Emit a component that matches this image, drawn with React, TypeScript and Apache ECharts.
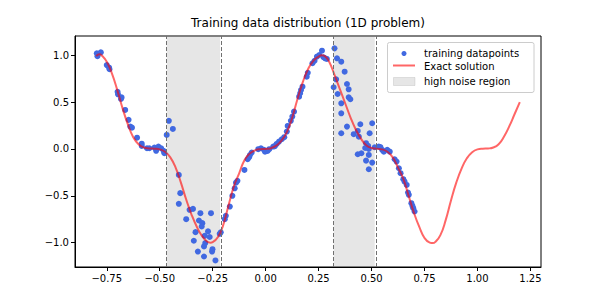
import React, { useEffect, useRef } from "react";
import * as echarts from "echarts";

const pointX = [
  -0.797, -0.794, -0.778, -0.75, -0.739, -0.737, -0.699, -0.697, -0.68, -0.683, -0.663, -0.647, -0.639, -0.631, -0.607, -0.585, -0.585, -0.56, -0.549, -0.525, -0.517, -0.506, -0.493, -0.482, -0.478,
  -0.467, -0.457, -0.438, -0.41, -0.403, -0.41, -0.359, -0.343, -0.375, -0.308, -0.315, -0.299, -0.302, -0.258, -0.331, -0.272, -0.288, -0.264, -0.339, -0.285, -0.291, -0.251, -0.253, -0.32, -0.291, -0.237,
  -0.217, -0.212, -0.193, -0.188, -0.169, -0.157, -0.146, -0.14, -0.133, -0.1, -0.085, -0.078, -0.074, -0.066, -0.035, -0.022, -0.008, -0.003, 0.009, 0.017, 0.036, 0.044, 0.052, 0.063, 0.076, 0.088, 0.1, 0.104, 0.119, 0.126, 0.134, 0.158, 0.163, 0.167, 0.174, 0.194, 0.199, 0.221, 0.231, 0.242, 0.253, 0.266, 0.273, 0.281, 0.289,
  0.325, 0.337, 0.357, 0.373, 0.333, 0.321, 0.384, 0.392, 0.34, 0.392, 0.4, 0.357, 0.357, 0.384, 0.357, 0.447, 0.503, 0.435, 0.416, 0.44, 0.491, 0.474, 0.484, 0.47, 0.487, 0.435, 0.452, 0.487, 0.474, 0.503, 0.487, 0.515,
  0.534, 0.542, 0.55, 0.558, 0.574, 0.586, 0.609, 0.618, 0.629, 0.637, 0.65, 0.656, 0.666, 0.672, 0.676, 0.688, 0.693, 0.697, 0.703,
];
const pointY = [
  1.02, 0.99, 1.03, 0.895, 0.867, 0.85, 0.61, 0.583, 0.55, 0.533, 0.416, 0.31, 0.238, 0.227, 0.12, 0.056, 0.032, 0.007, 0.007, 0.014, -0.02, 0.025, 0.007, -0.02, -0.046,
  0.149, 0.3, 0.213, -0.277, -0.472, -0.586, -0.65, -0.64, -0.75, -0.686, -0.764, -0.792, -0.828, -0.686, -0.888, -0.88, -0.927, -0.94, -0.98, -1.005, -1.04, -1.07, -1.095, -1.095, -1.148, -1.19,
  -0.906, -0.89, -0.75, -0.714, -0.615, -0.5, -0.42, -0.36, -0.34, -0.224, -0.11, -0.088, -0.065, -0.039, -0.003, 0.007, -0.01, -0.029, -0.021, -0.003, 0.025, 0.03, 0.053, 0.078, 0.103, 0.125, 0.185, 0.245, 0.3, 0.345, 0.398, 0.558, 0.594, 0.629, 0.664, 0.771, 0.813, 0.914, 0.941, 0.984, 1.002, 1.048, 0.978, 0.967, 0.96,
  1.073, 0.967, 0.931, 0.824, 0.743, 0.658, 0.693, 0.636, 0.586, 0.551, 0.53, 0.487, 0.38, 0.238, 0.167, 0.263, 0.274, 0.192, 0.157, 0.131, 0.167, 0.061, 0.032, 0.01, 0.0, -0.057, -0.046, -0.064, -0.125, -0.146, -0.217, 0.018,
  0.025, 0.02, -0.01, -0.029, -0.01, -0.029, -0.11, -0.135, -0.206, -0.259, -0.323, -0.349, -0.384, -0.466, -0.49, -0.579, -0.608, -0.632, -0.668,
];

const curveX = [
  -0.8, -0.785, -0.775, -0.75, -0.725, -0.7, -0.675, -0.65, -0.625, -0.6, -0.575, -0.55, -0.525, -0.5, -0.475, -0.45, -0.425, -0.4, -0.375, -0.35, -0.325, -0.3, -0.275, -0.26, -0.25, -0.225, -0.2, -0.175, -0.15, -0.125, -0.1, -0.075, -0.05, -0.025,
  0.0, 0.025, 0.05, 0.075, 0.1, 0.125, 0.15, 0.175, 0.2, 0.225, 0.25, 0.265, 0.28, 0.3, 0.325, 0.35, 0.375, 0.4, 0.425, 0.45, 0.475, 0.5, 0.525, 0.55, 0.575, 0.6, 0.625, 0.65, 0.675, 0.7, 0.725, 0.75, 0.775, 0.79, 0.8, 0.825, 0.85, 0.875, 0.9, 0.925, 0.95, 0.975, 1.0, 1.025, 1.05, 1.075, 1.1, 1.125, 1.15, 1.175, 1.2,
];
const curveY = [
  0.99, 1.01, 1.0, 0.93, 0.8, 0.625, 0.43, 0.26, 0.125, 0.05, 0.015, 0.005, 0.002, -0.005, -0.03, -0.09, -0.2, -0.36, -0.54, -0.7, -0.83, -0.93, -0.99, -1.0, -0.995, -0.94, -0.81, -0.6, -0.4, -0.26, -0.12, -0.05, -0.015, -0.003,
  0.0, 0.008, 0.035, 0.09, 0.18, 0.33, 0.53, 0.71, 0.85, 0.94, 0.985, 1.0, 0.99, 0.93, 0.79, 0.64, 0.49, 0.34, 0.21, 0.11, 0.04, 0.01, 0.002, -0.005, -0.03, -0.09, -0.2, -0.32, -0.5, -0.68, -0.83, -0.95, -1.0, -1.005, -0.995, -0.92, -0.76, -0.55, -0.36, -0.21, -0.1, -0.035, -0.005, 0.003, 0.005, 0.015, 0.05, 0.13, 0.24, 0.37, 0.5,
];

const noiseRegions = [
  [-0.467, -0.215],
  [0.321, 0.515],
];

const xTicks = [-0.75, -0.5, -0.25, 0, 0.25, 0.5, 0.75, 1.0, 1.25];
const yTicks = [-1.0, -0.5, 0.0, 0.5, 1.0];

const titleText = "Training data distribution (1D problem)";
const legendLabels = ["training datapoints", "Exact solution", "high noise region"];

const FONT = "DejaVu Sans";
const fmt = (v: number, d: number) => {
  const s = Math.abs(v).toFixed(d);
  return v < -1e-9 ? "\u2212" + s : s;
};

export default function App() {
  const ref = useRef<HTMLDivElement>(null);
  useEffect(() => {
    document.body.style.margin = "0";
    if (!ref.current) return;
    const chart = echarts.init(ref.current, null, { renderer: "svg" });
    const edges: any[] = [];
    noiseRegions.forEach((r) => {
      edges.push({ xAxis: r[0] });
      edges.push({ xAxis: r[1] });
    });
    const option: any = {
      animation: false,
      backgroundColor: "#fff",
      grid: { left: 75, right: 59, top: 36, bottom: 33, show: true, borderColor: "#000", borderWidth: 1, backgroundColor: "transparent" },
      xAxis: {
        type: "value",
        min: -0.9,
        max: 1.3,
        splitLine: { show: false },
        axisLine: { show: true, onZero: false, lineStyle: { color: "#000", width: 1 } },
        axisTick: { show: true, length: 4, customValues: xTicks, lineStyle: { color: "#000" } },
        axisLabel: { customValues: xTicks, formatter: (v: number) => fmt(v, 2), color: "#000", fontFamily: FONT, fontSize: 10, margin: 6 },
      },
      yAxis: {
        type: "value",
        min: -1.26,
        max: 1.205,
        splitLine: { show: false },
        axisLine: { show: true, onZero: false, lineStyle: { color: "#000", width: 1 } },
        axisTick: { show: true, length: 4, customValues: yTicks, lineStyle: { color: "#000" } },
        axisLabel: { customValues: yTicks, formatter: (v: number) => fmt(v, 1), color: "#000", fontFamily: FONT, fontSize: 10, margin: 6 },
      },
      series: [
        {
          type: "line",
          data: [],
          z: 1,
          markArea: {
            silent: true,
            itemStyle: { color: "rgba(128,128,128,0.2)" },
            data: noiseRegions.map((r) => [{ xAxis: r[0] }, { xAxis: r[1] }]),
          },
          markLine: {
            silent: true,
            symbol: "none",
            label: { show: false },
            lineStyle: { color: "#707070", type: [4, 2], width: 1 },
            data: edges,
          },
        },
        {
          type: "scatter",
          z: 2,
          symbolSize: 6,
          itemStyle: { color: "#4169E1", opacity: 1 },
          data: pointX.map((x, i) => [x, pointY[i]]),
        },
        {
          type: "line",
          z: 3,
          smooth: 0.5,
          showSymbol: false,
          symbol: "none",
          lineStyle: { color: "#ff0000", opacity: 0.6, width: 2 },
          data: curveX.map((x, i) => [x, curveY[i]]),
        },
      ],
      graphic: [
        { type: "text", x: 308, y: 17, style: { text: titleText, fontFamily: FONT, fontSize: 12, fill: "#000", textAlign: "center" } },
        { type: "rect", shape: { x: 387.5, y: 42.5, width: 146.5, height: 50, r: 2 }, style: { fill: "rgba(255,255,255,0.8)", stroke: "#cccccc", lineWidth: 1 }, z: 10 },
        { type: "circle", shape: { cx: 404, cy: 53.5, r: 2.5 }, style: { fill: "#4169E1" }, z: 11 },
        { type: "line", shape: { x1: 393, y1: 65.5, x2: 415, y2: 65.5 }, style: { stroke: "rgba(255,0,0,0.6)", lineWidth: 2 }, z: 11 },
        { type: "rect", shape: { x: 393.5, y: 77.5, width: 21.5, height: 8 }, style: { fill: "rgba(128,128,128,0.2)", stroke: "rgba(128,128,128,0.2)" }, z: 11 },
        { type: "text", x: 424, y: 53.5, style: { text: legendLabels[0], fontFamily: FONT, fontSize: 10, fill: "#000", textVerticalAlign: "middle" }, z: 11 },
        { type: "text", x: 424, y: 66, style: { text: legendLabels[1], fontFamily: FONT, fontSize: 10, fill: "#000", textVerticalAlign: "middle" }, z: 11 },
        { type: "text", x: 424, y: 81.5, style: { text: legendLabels[2], fontFamily: FONT, fontSize: 10, fill: "#000", textVerticalAlign: "middle" }, z: 11 },
      ],
    };
    chart.setOption(option);
    return () => chart.dispose();
  }, []);
  return <div ref={ref} style={{ width: 600, height: 300 }} />;
}
